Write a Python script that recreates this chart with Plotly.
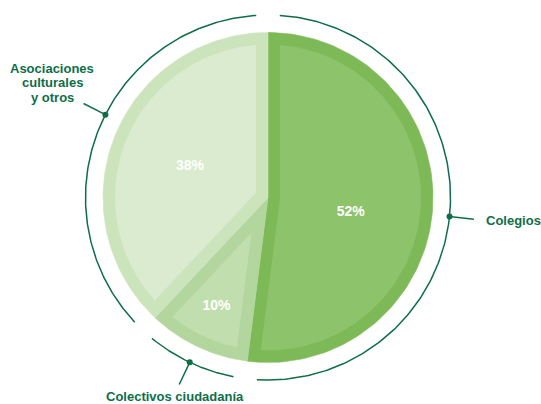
import numpy as np
import plotly.graph_objects as go

# ---- data ----
categories = ["Colegios", "Colectivos ciudadanía", "Asociaciones culturales y otros"]
values = [52, 10, 38]
pct_labels = ["52%", "10%", "38%"]
label_lines = [["Colegios"], ["Colectivos ciudadanía"], ["Asociaciones", "culturales", "y otros"]]

# ---- style ----
outer_colors = ["#7DBA57", "#B3D69F", "#CCE4BC"]
inner_colors = ["#8DC36B", "#C1DEAE", "#DAEBD0"]
ring_color = "#0E6E48"
text_color = "#0E6E48"
FONT = "Liberation Sans, Arial, sans-serif"

W, H = 541, 404
CX, CY = 268, 197.5
R = 165
INSET = 12
RING = 182.5
GAP = 3.7
TICK_OUT = 207
dot_offsets = [2.4, 0.2, 5.4]          # degrees, label-dot tweaks
pct_offsets = [6.7, 0.0, 0.0]          # degrees
pct_radius = [84, 121, 84]
label_pos = [(484, 220, "left"), (175, 396, "center"), (52, None, "center")]


def pt(r, deg):
    a = np.radians(deg)
    return CX + r * np.sin(a), CY - r * np.cos(a)


def arc(r, a1, a2, n=120):
    ang = np.linspace(a1, a2, n)
    return pt(r, ang)


total = sum(values)
starts, ends = [], []
acc = 0.0
for v in values:
    starts.append(acc / total * 360)
    acc += v
    ends.append(acc / total * 360)

fig = go.Figure()

# outer slices
for i, cat in enumerate(categories):
    ax, ay = arc(R, starts[i], ends[i])
    xs = np.concatenate([[CX], ax, [CX]])
    ys = np.concatenate([[CY], ay, [CY]])
    fig.add_trace(go.Scatter(x=xs, y=ys, fill="toself", mode="lines",
                             fillcolor=outer_colors[i],
                             line=dict(color=outer_colors[i], width=0.6),
                             hoverinfo="skip", showlegend=False))

# inset slices
Ri = R - INSET
dlt = np.degrees(np.arcsin(INSET / Ri))
for i, cat in enumerate(categories):
    a1, a2 = starts[i], ends[i]
    s = a2 - a1
    ax, ay = arc(Ri, a1 + dlt, a2 - dlt)
    if s < 180:
        apx, apy = pt(INSET / np.sin(np.radians(s / 2)), (a1 + a2) / 2)
        xs = np.concatenate([ax, [apx], ax[:1]])
        ys = np.concatenate([ay, [apy], ay[:1]])
    else:
        cx_, cy_ = arc(INSET, a2 - 90, a1 + 90, 30)
        xs = np.concatenate([ax, cx_, ax[:1]])
        ys = np.concatenate([ay, cy_, ay[:1]])
    fig.add_trace(go.Scatter(x=xs, y=ys, fill="toself", mode="lines",
                             fillcolor=inner_colors[i],
                             line=dict(color=inner_colors[i], width=0),
                             hoverinfo="skip", showlegend=False))

# outer ring arcs
for i in range(len(values)):
    ax, ay = arc(RING, starts[i] + GAP, ends[i] - GAP, 200)
    fig.add_trace(go.Scatter(x=ax, y=ay, mode="lines",
                             line=dict(color=ring_color, width=1.5),
                             hoverinfo="skip", showlegend=False))

# leader lines + dots
for i in range(len(values)):
    ang = (starts[i] + ends[i]) / 2 + dot_offsets[i]
    x0, y0 = pt(RING, ang)
    x1, y1 = pt(TICK_OUT, ang)
    fig.add_trace(go.Scatter(x=[x0, x1], y=[y0, y1], mode="lines",
                             line=dict(color=ring_color, width=1.5),
                             hoverinfo="skip", showlegend=False))
    fig.add_trace(go.Scatter(x=[x0], y=[y0], mode="markers",
                             marker=dict(color=ring_color, size=6),
                             hoverinfo="skip", showlegend=False))

# percentage labels
px_, py_ = [], []
for i in range(len(values)):
    ang = (starts[i] + ends[i]) / 2 + pct_offsets[i]
    x, y = pt(pct_radius[i], ang)
    px_.append(x)
    py_.append(y)
fig.add_trace(go.Scatter(x=px_, y=py_, mode="text", text=pct_labels,
                         textfont=dict(family=FONT, size=14, color="white", weight="bold"),
                         hoverinfo="skip", showlegend=False))

# category labels
annotations = []
line_ys = [68, 82.5, 97]
for i, lines in enumerate(label_lines):
    lx, ly, anc = label_pos[i]
    ys_ = [ly] if ly is not None else line_ys
    for ln, yy in zip(lines, ys_):
        annotations.append(dict(x=lx, y=yy, xref="x", yref="y", text="<b>%s</b>" % ln,
                                showarrow=False, xanchor=anc, yanchor="middle",
                                font=dict(family=FONT, size=13, color=text_color)))

fig.update_layout(
    width=W, height=H, autosize=False,
    margin=dict(l=0, r=0, t=0, b=0),
    paper_bgcolor="white", plot_bgcolor="white",
    xaxis=dict(range=[0, W], visible=False, fixedrange=True),
    yaxis=dict(range=[H, 0], visible=False, fixedrange=True),
    annotations=annotations,
    hovermode=False,
)

fig.write_html("out.html")
